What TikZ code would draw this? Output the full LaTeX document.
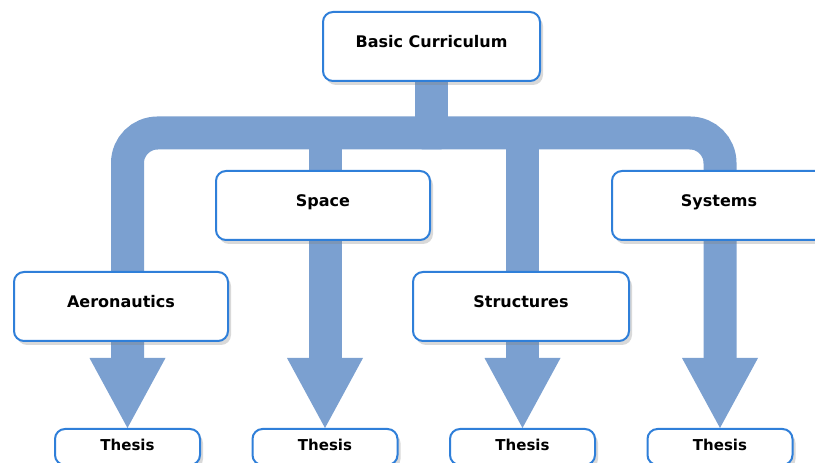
\documentclass[tikz,border=0pt]{standalone}
\usepackage{fontspec}
\setmainfont{DejaVu Sans}
\definecolor{trackBlue}{HTML}{7BA0D0}
\definecolor{edgeBlue}{HTML}{2F7FD9}
\usetikzlibrary{calc,positioning,arrows.meta,shadows,backgrounds}

\tikzset{
  box/.style={draw=edgeBlue, line width=2pt, fill=white, rounded corners=10pt,
    minimum width=214pt, minimum height=69pt, text height=12pt, text depth=9pt,
    font=\bfseries\fontsize{16}{18}\selectfont,
    drop shadow={shadow xshift=3pt, shadow yshift=-4pt, opacity=0.3}},
  thesisbox/.style={box, minimum width=145pt, minimum height=36pt,
    text depth=4pt, font=\bfseries\fontsize{15}{18}\selectfont},
  stem/.style={draw=trackBlue, line width=33pt, rounded corners=30pt},
  trunk/.style={stem, -{Triangle[width=76pt,length=70pt,line width=0pt]}},
}

\begin{document}
\begin{tikzpicture}[x=1pt,y=1pt]
  \useasboundingbox (0,0) rectangle (815,463);
  % the curriculum and its four tracks
  \node[box, minimum width=217pt] (curriculum) at (431.5,416.5) {Basic Curriculum};
  \node[box] (aero) at (121,156.5) {Aeronautics};
  \node[box] (space) at (323,257.5) {Space};
  \node[box, minimum width=216pt] (struct) at (521,156.5) {Structures};
  \node[box] (systems) at (719,257.5) {Systems};
  % one thesis per track
  \node[thesisbox] (thesisA) at (127.5,16) {Thesis};
  \node[thesisbox] (thesisB) at (325,16) {Thesis};
  \node[thesisbox] (thesisC) at (522.5,16) {Thesis};
  \node[thesisbox] (thesisD) at (720,16) {Thesis};
  \coordinate (junction) at (curriculum.south |- 0,330);
  % wide arrows behind the boxes
  \begin{scope}[on background layer]
    \draw[stem] (curriculum.south) -- (junction);
    \draw[trunk] ([xshift=10pt]junction) -| (thesisA.north);
    \draw[trunk] ([xshift=-10pt]junction) -| (thesisD.north);
    \draw[trunk] (thesisB.north |- junction) -- (thesisB.north);
    \draw[trunk] (thesisC.north |- junction) -- (thesisC.north);
  \end{scope}
\end{tikzpicture}
\end{document}
